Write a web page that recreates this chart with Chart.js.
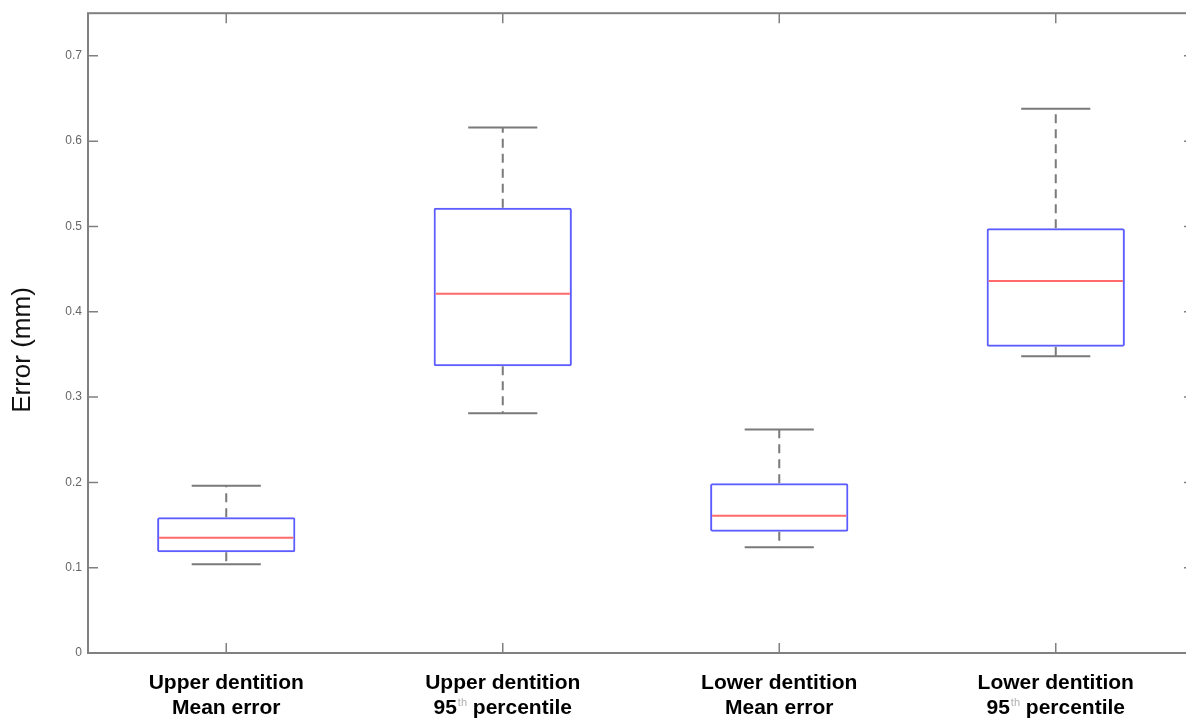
<!DOCTYPE html>
<html>
<head>
<meta charset="utf-8">
<script src="https://cdn.jsdelivr.net/npm/chart.js@4/dist/chart.umd.min.js"></script>
<style>
  html, body { margin: 0; padding: 0; background: #fff; overflow: hidden; }
  #wrap { width: 1200px; height: 722px; }
</style>
</head>
<body>
<div id="wrap"><canvas id="boxChart" width="1200" height="722"></canvas></div>
<script>
// Box plot values (mm)
const groups = ['Upper dentition', 'Upper dentition', 'Lower dentition', 'Lower dentition'];
const measures = ['Mean error', '95th percentile', 'Mean error', '95th percentile'];
const whiskerLow = [0.104, 0.281, 0.124, 0.348];
const q1 = [0.118, 0.336, 0.142, 0.359];
const median = [0.135, 0.421, 0.161, 0.436];
const q3 = [0.159, 0.522, 0.199, 0.498];
const whiskerHigh = [0.196, 0.616, 0.262, 0.638];
const yTicks = [0, 0.1, 0.2, 0.3, 0.4, 0.5, 0.6, 0.7];
const yTitle = 'Error (mm)';

const labels = groups.map((g, i) => g + ' ' + measures[i]);
const FAMILY = '"Liberation Sans", Arial, sans-serif';

// whiskers, caps, medians, frame and inward ticks (MATLAB look)
const boxExtras = {
    id: 'boxExtras',
    afterDatasetsDraw(chart) {
        const { ctx, scales: { x, y } } = chart;
        const catW = (x.right - x.left) / labels.length;
        const boxW = catW * 0.5;
        const capW = catW * 0.25;
        ctx.save();
        labels.forEach((_, i) => {
            const cx = x.getPixelForValue(i);
            // dashed whiskers
            ctx.strokeStyle = '#7a7a7a';
            ctx.lineWidth = 2;
            ctx.setLineDash([9, 6]);
            ctx.beginPath();
            ctx.moveTo(cx, y.getPixelForValue(q3[i]));
            ctx.lineTo(cx, y.getPixelForValue(whiskerHigh[i]));
            ctx.moveTo(cx, y.getPixelForValue(q1[i]));
            ctx.lineTo(cx, y.getPixelForValue(whiskerLow[i]));
            ctx.stroke();
            // caps
            ctx.setLineDash([]);
            ctx.beginPath();
            [whiskerHigh[i], whiskerLow[i]].forEach(v => {
                const py = y.getPixelForValue(v);
                ctx.moveTo(cx - capW / 2, py);
                ctx.lineTo(cx + capW / 2, py);
            });
            ctx.stroke();
            // median
            ctx.strokeStyle = '#ff6a6a';
            ctx.beginPath();
            const my = y.getPixelForValue(median[i]);
            ctx.moveTo(cx - boxW / 2 + 2, my);
            ctx.lineTo(cx + boxW / 2 - 2, my);
            ctx.stroke();
        });
        ctx.restore();
    },
    afterDraw(chart) {
        const { ctx, chartArea: a, scales: { x, y } } = chart;
        ctx.save();
        ctx.strokeStyle = '#808080';
        ctx.lineWidth = 2;
        ctx.strokeRect(a.left, a.top, a.right - a.left, a.bottom - a.top);
        ctx.lineWidth = 1.5;
        ctx.beginPath();
        yTicks.forEach(v => {
            const py = y.getPixelForValue(v);
            ctx.moveTo(a.left, py); ctx.lineTo(a.left + 10, py);
            ctx.moveTo(a.right, py); ctx.lineTo(a.right - 10, py);
        });
        labels.forEach((_, i) => {
            const px = x.getPixelForValue(i);
            ctx.moveTo(px, a.bottom); ctx.lineTo(px, a.bottom - 10);
            ctx.moveTo(px, a.top); ctx.lineTo(px, a.top + 10);
        });
        ctx.stroke();

        // y axis title
        ctx.save();
        ctx.translate(23, 350);
        ctx.rotate(-Math.PI / 2);
        ctx.fillStyle = '#111';
        ctx.font = '26px ' + FAMILY;
        ctx.textAlign = 'center';
        ctx.textBaseline = 'middle';
        ctx.fillText(yTitle, 0, 0);
        ctx.restore();

        // two-line category labels, with superscript ordinal
        const bigFont = 'bold 21px ' + FAMILY;
        const supFont = '11px ' + FAMILY;
        const line1 = a.bottom + 36;
        const line2 = a.bottom + 61;
        ctx.textBaseline = 'alphabetic';
        labels.forEach((_, i) => {
            const px = x.getPixelForValue(i);
            ctx.fillStyle = '#000';
            ctx.font = bigFont;
            ctx.textAlign = 'center';
            ctx.fillText(groups[i], px, line1);
            const m = measures[i].match(/^(\d+)(st|nd|rd|th)(.*)$/);
            if (!m) {
                ctx.fillText(measures[i], px, line2);
                return;
            }
            ctx.font = bigFont;
            const w1 = ctx.measureText(m[1]).width;
            const w3 = ctx.measureText(m[3]).width;
            ctx.font = supFont;
            const w2 = ctx.measureText(m[2]).width + 1;
            const sx = px - (w1 + w2 + w3) / 2;
            ctx.textAlign = 'left';
            ctx.font = bigFont;
            ctx.fillText(m[1], sx, line2);
            ctx.font = supFont;
            ctx.fillStyle = '#b0b0b0';
            ctx.fillText(m[2], sx + w1 + 1, line2 - 8);
            ctx.font = bigFont;
            ctx.fillStyle = '#000';
            ctx.fillText(m[3], sx + w1 + w2, line2);
        });
        ctx.restore();
    }
};

new Chart(document.getElementById('boxChart'), {
    type: 'bar',
    data: {
        labels: labels,
        datasets: [{
            data: q1.map((v, i) => [v, q3[i]]),
            backgroundColor: 'rgba(0,0,0,0)',
            borderColor: '#5c5cff',
            borderWidth: 2,
            borderSkipped: false,
            borderRadius: 2,
            barPercentage: 0.5,
            categoryPercentage: 1
        }]
    },
    options: {
        responsive: false,
        animation: false,
        layout: { padding: { top: 11, right: 6, left: 0, bottom: 0 } },
        plugins: {
            legend: { display: false },
            tooltip: { enabled: false }
        },
        scales: {
            x: {
                type: 'category',
                offset: true,
                grid: { display: false },
                border: { display: false },
                ticks: { display: false },
                afterFit: s => { s.height = 69; }
            },
            y: {
                min: 0,
                max: 0.75,
                grid: { display: false, drawTicks: false },
                border: { display: false },
                afterBuildTicks: s => { s.ticks = yTicks.map(v => ({ value: v })); },
                ticks: {
                    padding: 6,
                    color: '#666',
                    font: { size: 12, family: FAMILY },
                    callback: v => (v === 0 ? '0' : v.toFixed(1))
                },
                afterFit: s => { s.width = 88; }
            }
        }
    },
    plugins: [boxExtras]
});
</script>
</body>
</html>
